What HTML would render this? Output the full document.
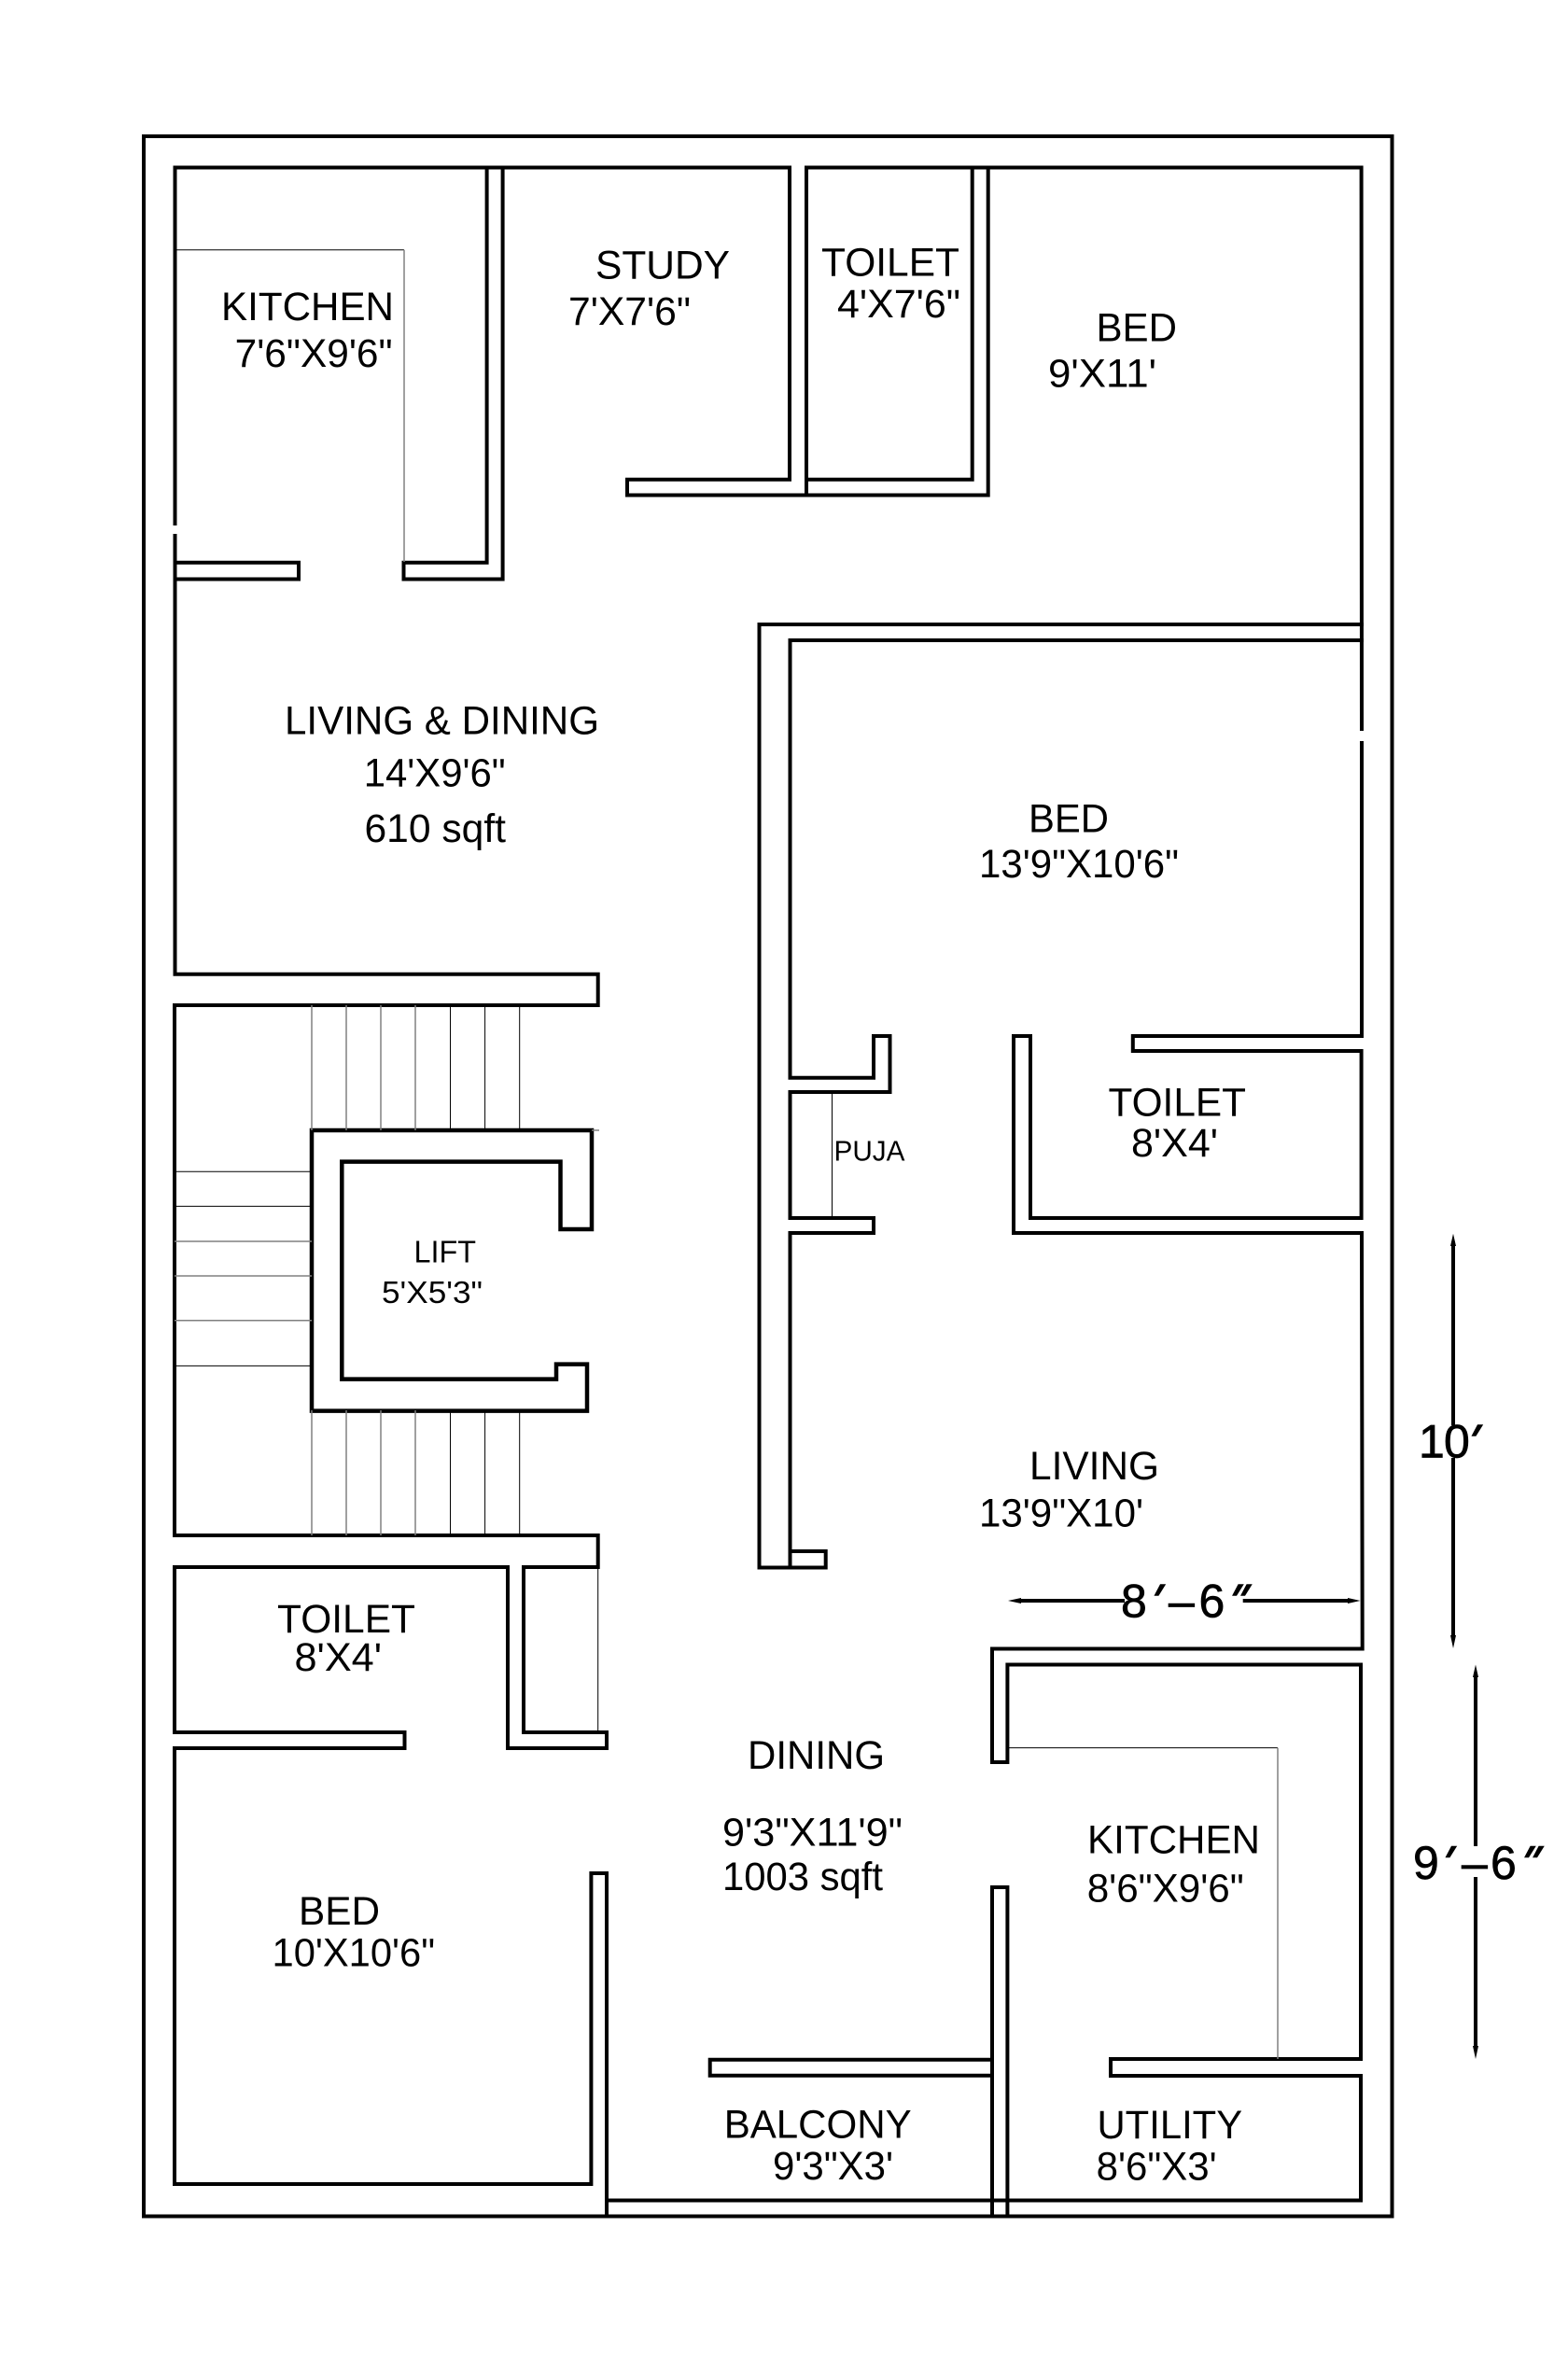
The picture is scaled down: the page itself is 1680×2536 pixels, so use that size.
<!DOCTYPE html>
<html><head><meta charset="utf-8"><title>Floor plan</title>
<style>
html,body{margin:0;padding:0;background:#fff}
svg{display:block}
text{font-family:"Liberation Sans",sans-serif;font-size:43px;fill:#000}
.w{fill:none;stroke:#000;stroke-width:4;stroke-linejoin:miter;stroke-linecap:square}
.t{fill:none;stroke:#000;stroke-width:1}
.g{fill:none;stroke:#808080;stroke-width:1.5}
.d{font-size:50px;stroke:#000;stroke-width:.7}
.p{font-size:50px;stroke:#000;stroke-width:1.6}
</style></head><body>
<svg width="1680" height="2536" viewBox="0 0 1680 2536" xmlns="http://www.w3.org/2000/svg">
<rect width="1680" height="2536" fill="#fff"/>
<rect class="w" x="154" y="146" width="1337.5" height="2228.5"/>
<polyline class="w" points="187.5,561 187.5,179.5 846,179.5 846,513.7 672,513.7 672,530.5 1058.7,530.5 1058.7,179.5 864,179.5 864,530.5"/>
<polyline class="w" points="864,513.7 1041.7,513.7 1041.7,179.5"/>
<polyline class="w" points="1058.7,179.5 1458.6,179.5 1459,781"/>
<polyline class="w" points="187.5,574 187.5,1043.7 640.7,1043.7 640.7,1077 187,1077 187,1645 640.7,1645 640.7,1679 561,1679 561,1856 650,1856 650,1873 544,1873 544,1679 187,1679 187,1856 433.5,1856 433.5,1873 187,1873 187,2340 633.4,2340 633.4,2007 650,2007 650,2374"/>
<polyline class="w" points="187.5,602.7 320,602.7 320,620.5 187.5,620.5"/>
<polyline class="w" points="521.6,179.5 521.6,602.7 432.5,602.7 432.5,620.5 538.6,620.5 538.6,179.5"/>
<polyline class="t" points="187.5,267.8 433,267.8"/>
<polyline class="g" points="433,267.8 433,602"/>
<polyline class="w" points="1459,669 813.5,669 813.5,1679.5 884.7,1679.5 884.7,1662 846.5,1662"/>
<polyline class="w" points="1459,686 846.5,686 846.5,1154.7 936,1154.7 936,1110 953.5,1110 953.5,1170 846.5,1170 846.5,1305 936,1305 936,1321 846.5,1321 846.5,1679.5"/>
<polyline class="t" points="891.5,1170 891.5,1305"/>
<polyline class="w" points="1459,796 1459,1110 1213.8,1110 1213.8,1126 1458.6,1126 1458.6,1305 1104,1305 1104,1110 1086,1110 1086,1321 1459,1321 1459.7,1766.5 1063,1766.5 1063,1888 1079.4,1888 1079.4,1783.5 1458,1783.5 1458,2206 1190,2206 1190,2224 1458,2224 1458,2357.5 650,2357.5"/>
<polyline class="w" points="1063,2374 1063,2022 1079.4,2022 1079.4,2374"/>
<polyline class="w" points="1063,2206.7 760.7,2206.7 760.7,2223.7 1063,2223.7"/>
<polyline class="t" points="1079.4,1872.6 1369,1872.6"/>
<polyline class="g" points="1369,1872.6 1369,2206"/>
<polygon class="w" style="stroke-width:4.5" points="334,1211 634,1211 634,1317 600.5,1317 600.5,1244.6 366.3,1244.6 366.3,1477.6 596,1477.6 596,1461.6 629,1461.6 629,1511.6 334,1511.6"/>
<path class="g" d="M334 1077V1211M371 1077V1211M408 1077V1211M445 1077V1211M334 1511V1645M371 1511V1645M408 1511V1645M445 1511V1645M634 1211H642"/>
<path class="t" d="M482.5 1077V1211M519.6 1077V1211M556.7 1077V1211M482.5 1511V1645M519.6 1511V1645M556.7 1511V1645M187 1255.3H334M187 1292.4H334M187 1463.4H334M640.7 1679V1856"/>
<path class="g" d="M187 1330H334M187 1367H334M187 1414.7H334"/>
<!-- dimensions -->
<path class="w" style="stroke-linecap:butt" d="M1557 1330V1527M1557 1562V1756M1581 1793V1978M1581 2011V2196M1090 1715H1205M1331.7 1715H1448"/>
<path d="M1557 1321.7L1560 1335H1554ZM1557 1766L1560 1752H1554ZM1581 1783.5L1584 1797H1578ZM1581 2206L1584 2192H1578ZM1080 1715L1094 1712V1718ZM1457.5 1715L1444 1712V1718Z" fill="#000"/>
<text class="d" x="1520 1547" y="1561.7">10</text>
<text class="p" transform="translate(1561 1561.7) skewX(-30)">'</text>
<text class="d" x="1201" y="1732.7">8</text>
<text class="p" transform="translate(1221 1732.7) skewX(-30)">'</text>
<text class="d" x="1252" y="1732.7">–</text>
<text class="d" x="1284.5" y="1732.7">6</text>
<text class="p" transform="translate(1305 1732.7) skewX(-30)">"</text>
<text class="d" x="1514" y="2013">9</text>
<text class="p" transform="translate(1533 2013) skewX(-30)">'</text>
<text class="d" x="1566" y="2013">–</text>
<text class="d" x="1597" y="2013">6</text>
<text class="p" transform="translate(1618 2013) skewX(-30)">"</text>
<!-- labels -->
<text x="237" y="343" textLength="185" lengthAdjust="spacingAndGlyphs">KITCHEN</text>
<text x="251.6" y="393" textLength="169" lengthAdjust="spacingAndGlyphs">7'6"X9'6"</text>
<text x="638" y="298.5" textLength="144" lengthAdjust="spacingAndGlyphs">STUDY</text>
<text x="609" y="348" textLength="131" lengthAdjust="spacingAndGlyphs">7'X7'6"</text>
<text x="880" y="295.4" textLength="148" lengthAdjust="spacingAndGlyphs">TOILET</text>
<text x="897" y="340" textLength="132" lengthAdjust="spacingAndGlyphs">4'X7'6"</text>
<text x="1174.5" y="365.5" textLength="86.5" lengthAdjust="spacingAndGlyphs">BED</text>
<text x="1123" y="414.6" textLength="116" lengthAdjust="spacingAndGlyphs">9'X11'</text>
<text x="305" y="786.7" textLength="337" lengthAdjust="spacingAndGlyphs">LIVING &amp; DINING</text>
<text x="389.7" y="842.7" textLength="152" lengthAdjust="spacingAndGlyphs">14'X9'6"</text>
<text x="390.5" y="902" textLength="151.5" lengthAdjust="spacingAndGlyphs">610 sqft</text>
<text x="1102" y="891.7" textLength="86" lengthAdjust="spacingAndGlyphs">BED</text>
<text x="1049" y="940" textLength="214" lengthAdjust="spacingAndGlyphs">13'9"X10'6"</text>
<text x="443.5" y="1352.7" textLength="66.5" lengthAdjust="spacingAndGlyphs" style="font-size:33px">LIFT</text>
<text x="409" y="1396" textLength="108" lengthAdjust="spacingAndGlyphs" style="font-size:33px">5'X5'3"</text>
<text x="893.5" y="1243.6" textLength="76" lengthAdjust="spacingAndGlyphs" style="font-size:31px">PUJA</text>
<text x="1187.5" y="1195.5" textLength="147.5" lengthAdjust="spacingAndGlyphs">TOILET</text>
<text x="1212" y="1239" textLength="93" lengthAdjust="spacingAndGlyphs">8'X4'</text>
<text x="1103" y="1585" textLength="139" lengthAdjust="spacingAndGlyphs">LIVING</text>
<text x="1049" y="1635.5" textLength="176" lengthAdjust="spacingAndGlyphs">13'9"X10'</text>
<text x="297" y="1749" textLength="148" lengthAdjust="spacingAndGlyphs">TOILET</text>
<text x="315.5" y="1790" textLength="93.5" lengthAdjust="spacingAndGlyphs">8'X4'</text>
<text x="320" y="2062" textLength="87" lengthAdjust="spacingAndGlyphs">BED</text>
<text x="291.5" y="2106.6" textLength="174.5" lengthAdjust="spacingAndGlyphs">10'X10'6"</text>
<text x="801" y="1895" textLength="147" lengthAdjust="spacingAndGlyphs">DINING</text>
<text x="774" y="1977.3" textLength="193" lengthAdjust="spacingAndGlyphs">9'3"X11'9"</text>
<text x="774" y="2025" textLength="172" lengthAdjust="spacingAndGlyphs">1003 sqft</text>
<text x="1165" y="1985.6" textLength="185" lengthAdjust="spacingAndGlyphs">KITCHEN</text>
<text x="1164.7" y="2037.5" textLength="168" lengthAdjust="spacingAndGlyphs">8'6"X9'6"</text>
<text x="775.7" y="2290.7" textLength="201" lengthAdjust="spacingAndGlyphs">BALCONY</text>
<text x="828" y="2335" textLength="129" lengthAdjust="spacingAndGlyphs">9'3"X3'</text>
<text x="1175.5" y="2291" textLength="155.6" lengthAdjust="spacingAndGlyphs">UTILITY</text>
<text x="1174.6" y="2335.5" textLength="129" lengthAdjust="spacingAndGlyphs">8'6"X3'</text>
</svg>
</body></html>
